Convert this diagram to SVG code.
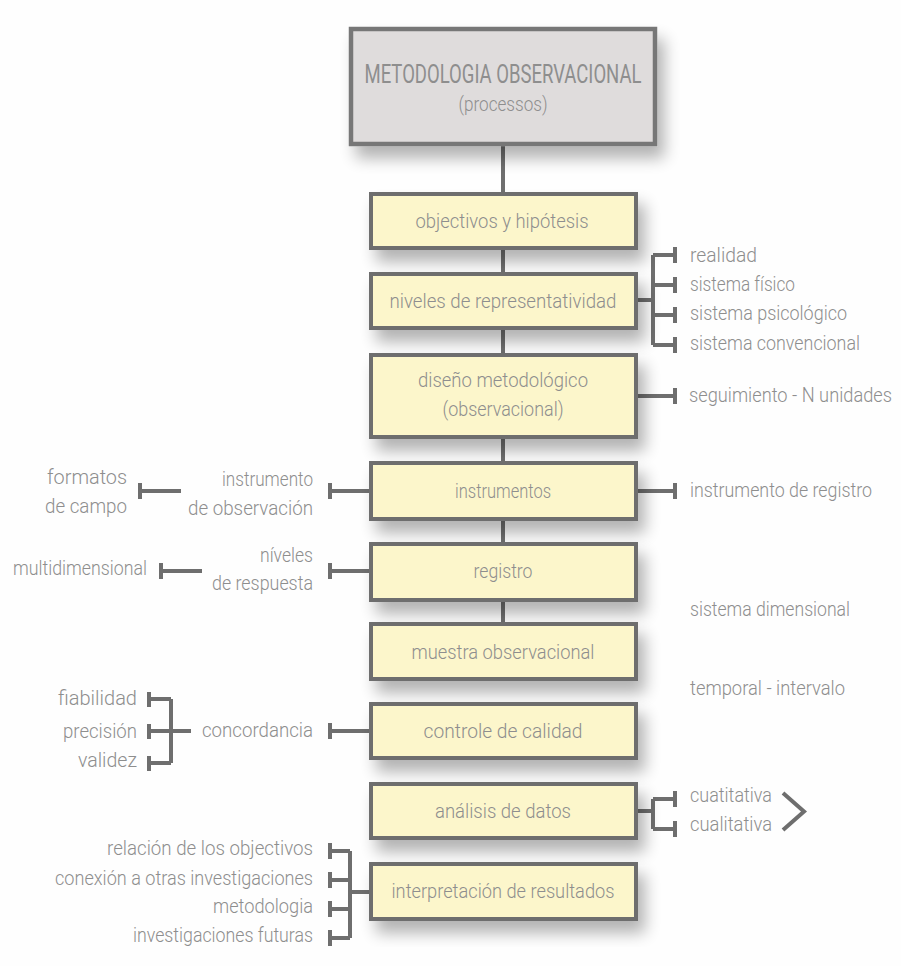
<svg xmlns="http://www.w3.org/2000/svg" width="901" height="966" viewBox="0 0 901 966">
  <defs>
    <filter id="shadow" x="-20%" y="-30%" width="150%" height="180%">
      <feGaussianBlur in="SourceAlpha" stdDeviation="8"/>
      <feOffset dx="7" dy="12" result="blur"/>
      <feComponentTransfer><feFuncA type="linear" slope="0.3"/></feComponentTransfer>
      <feMerge><feMergeNode/><feMergeNode in="SourceGraphic"/></feMerge>
    </filter>
  </defs>
  <style>
    .box { fill: #fcf6cb; stroke: #6e6e6e; stroke-width: 4; }
    .head { fill: #dfdcdc; stroke: #777777; stroke-width: 4.5; }
    .ln { stroke: #6e6e6e; stroke-width: 4; fill: none; }
    .tk { fill: #6e6e6e; }
    text { font-family: Roboto, "Liberation Sans", sans-serif; font-weight: 300; fill: #8e8e8e; font-size: 20.5px; }
    .c { text-anchor: middle; }
    .r { text-anchor: end; }
    .ttl { font-size: 25px; font-weight: 400; }
  </style>
  <rect width="901" height="966" fill="#fefefe"/>

  <!-- connectors -->
  <g id="connectors">
    <!-- spine -->
    <path class="ln" d="M503 146V192M503 250V272M503 330V353M503 439V461M503 521V542M503 602V622"/>
    <!-- niveles de representatividad: four-way bracket -->
    <path class="ln" d="M638 300H653M653 255V345M653 255H675M653 285H675M653 315H675M653 345H675"/>
    <rect class="tk" x="673" y="247" width="4" height="16"/>
    <rect class="tk" x="673" y="277" width="4" height="16"/>
    <rect class="tk" x="673" y="307" width="4" height="16"/>
    <rect class="tk" x="673" y="337" width="4" height="16"/>
    <!-- diseño metodológico -->
    <path class="ln" d="M638 396H675"/>
    <rect class="tk" x="673" y="388" width="4" height="16"/>
    <!-- instrumentos -->
    <path class="ln" d="M638 491H675M330 491H369M140 491H181"/>
    <rect class="tk" x="673" y="483" width="4" height="16"/>
    <rect class="tk" x="328" y="483" width="4" height="16"/>
    <rect class="tk" x="138" y="483" width="4" height="16"/>
    <!-- registro -->
    <path class="ln" d="M330 571H369M161 571H202"/>
    <rect class="tk" x="328" y="563" width="4" height="16"/>
    <rect class="tk" x="159" y="563" width="4" height="16"/>
    <!-- controle de calidad -->
    <path class="ln" d="M330 731H369M171 731H191M171 699V763M149 699H171M149 731H171M149 763H171"/>
    <rect class="tk" x="328" y="723" width="4" height="16"/>
    <rect class="tk" x="147" y="692" width="4" height="15"/>
    <rect class="tk" x="147" y="724" width="4" height="15"/>
    <rect class="tk" x="147" y="756" width="4" height="15"/>
    <!-- análisis de datos -->
    <path class="ln" d="M638 811H653M653 799V829M653 799H675M653 829H675"/>
    <rect class="tk" x="673" y="791" width="4" height="16"/>
    <rect class="tk" x="673" y="821" width="4" height="16"/>
    <path class="ln" d="M783 793L804 811.5L783 830" stroke-width="5"/>
    <!-- interpretación de resultados -->
    <path class="ln" d="M350 892H369M350 851V938M330 851H350M330 880H350M330 909H350M330 938H350"/>
    <rect class="tk" x="328" y="843" width="4" height="16"/>
    <rect class="tk" x="328" y="872" width="4" height="16"/>
    <rect class="tk" x="328" y="901" width="4" height="16"/>
    <rect class="tk" x="328" y="930" width="4" height="16"/>
  </g>

  <!-- main process chain -->
  <g id="n-metodologia">
    <rect class="head" x="351" y="29" width="304" height="115" filter="url(#shadow)"/>
    <text class="c ttl" x="503" y="83" textLength="277" lengthAdjust="spacingAndGlyphs">METODOLOGIA OBSERVACIONAL</text>
    <text class="c" x="503" y="111" font-size="21" textLength="89" lengthAdjust="spacingAndGlyphs">(processos)</text>
  </g>
  <g id="n-objectivos">
    <rect class="box" x="371" y="194" width="265" height="54" filter="url(#shadow)"/>
    <text class="c" x="502" y="228" textLength="173" lengthAdjust="spacingAndGlyphs">objectivos y hipótesis</text>
  </g>
  <g id="n-niveles">
    <rect class="box" x="371" y="274" width="265" height="54" filter="url(#shadow)"/>
    <text class="c" x="503" y="308" textLength="227" lengthAdjust="spacingAndGlyphs">niveles de representatividad</text>
  </g>
  <g id="n-diseno">
    <rect class="box" x="371" y="355" width="265" height="82" filter="url(#shadow)"/>
    <text class="c" x="503" y="387" textLength="170" lengthAdjust="spacingAndGlyphs">diseño metodológico</text>
    <text class="c" x="503" y="416" textLength="121" lengthAdjust="spacingAndGlyphs">(observacional)</text>
  </g>
  <g id="n-instrumentos">
    <rect class="box" x="371" y="463" width="265" height="56" filter="url(#shadow)"/>
    <text class="c" x="503" y="498" textLength="96" lengthAdjust="spacingAndGlyphs">instrumentos</text>
  </g>
  <g id="n-registro">
    <rect class="box" x="371" y="544" width="265" height="56" filter="url(#shadow)"/>
    <text class="c" x="503" y="578" textLength="59" lengthAdjust="spacingAndGlyphs">registro</text>
  </g>
  <g id="n-muestra">
    <rect class="box" x="371" y="624" width="265" height="55" filter="url(#shadow)"/>
    <text class="c" x="503" y="659" textLength="183" lengthAdjust="spacingAndGlyphs">muestra observacional</text>
  </g>
  <g id="n-controle">
    <rect class="box" x="371" y="704" width="265" height="54" filter="url(#shadow)"/>
    <text class="c" x="503" y="738" textLength="159" lengthAdjust="spacingAndGlyphs">controle de calidad</text>
  </g>
  <g id="n-analisis">
    <rect class="box" x="371" y="784" width="265" height="54" filter="url(#shadow)"/>
    <text class="c" x="503" y="818" textLength="136" lengthAdjust="spacingAndGlyphs">análisis de datos</text>
  </g>
  <g id="n-interpretacion">
    <rect class="box" x="371" y="864" width="265" height="55" filter="url(#shadow)"/>
    <text class="c" x="503" y="898" textLength="223" lengthAdjust="spacingAndGlyphs">interpretación de resultados</text>
  </g>

  <!-- right-hand labels -->
  <g id="n-realidad"><text x="690" y="262" textLength="67" lengthAdjust="spacingAndGlyphs">realidad</text></g>
  <g id="n-fisico"><text x="690" y="291" textLength="105" lengthAdjust="spacingAndGlyphs">sistema físico</text></g>
  <g id="n-psicologico"><text x="690" y="320" textLength="157" lengthAdjust="spacingAndGlyphs">sistema psicológico</text></g>
  <g id="n-convencional"><text x="690" y="350" textLength="170" lengthAdjust="spacingAndGlyphs">sistema convencional</text></g>
  <g id="n-seguimiento"><text x="689" y="402" font-size="16.5" textLength="203" lengthAdjust="spacingAndGlyphs">seguimiento - N unidades</text></g>
  <g id="n-instr-registro"><text x="690" y="497" textLength="182" lengthAdjust="spacingAndGlyphs">instrumento de registro</text></g>
  <g id="n-dimensional"><text x="690" y="616" textLength="160" lengthAdjust="spacingAndGlyphs">sistema dimensional</text></g>
  <g id="n-temporal"><text x="690" y="695" textLength="155" lengthAdjust="spacingAndGlyphs">temporal - intervalo</text></g>
  <g id="n-cuatitativa"><text x="690" y="802" textLength="82" lengthAdjust="spacingAndGlyphs">cuatitativa</text></g>
  <g id="n-cualitativa"><text x="690" y="831" textLength="82" lengthAdjust="spacingAndGlyphs">cualitativa</text></g>

  <!-- left-hand labels -->
  <g id="n-instr-observacion">
    <text class="r" x="313" y="486" textLength="91" lengthAdjust="spacingAndGlyphs">instrumento</text>
    <text class="r" x="313" y="515" textLength="125" lengthAdjust="spacingAndGlyphs">de observación</text>
  </g>
  <g id="n-formatos">
    <text class="r" x="127" y="484" textLength="80" lengthAdjust="spacingAndGlyphs">formatos</text>
    <text class="r" x="127" y="513" textLength="82" lengthAdjust="spacingAndGlyphs">de campo</text>
  </g>
  <g id="n-niveles-respuesta">
    <text class="r" x="313" y="562" textLength="53" lengthAdjust="spacingAndGlyphs">níveles</text>
    <text class="r" x="313" y="590" textLength="101" lengthAdjust="spacingAndGlyphs">de respuesta</text>
  </g>
  <g id="n-multidimensional"><text class="r" x="147" y="575" textLength="134" lengthAdjust="spacingAndGlyphs">multidimensional</text></g>
  <g id="n-concordancia"><text class="r" x="313" y="737" textLength="111" lengthAdjust="spacingAndGlyphs">concordancia</text></g>
  <g id="n-fiabilidad"><text class="r" x="137" y="705" textLength="79" lengthAdjust="spacingAndGlyphs">fiabilidad</text></g>
  <g id="n-precision"><text class="r" x="137" y="738" textLength="74" lengthAdjust="spacingAndGlyphs">precisión</text></g>
  <g id="n-validez"><text class="r" x="137" y="767" textLength="59" lengthAdjust="spacingAndGlyphs">validez</text></g>
  <g id="n-relacion"><text class="r" x="313" y="855" textLength="206" lengthAdjust="spacingAndGlyphs">relación de los objectivos</text></g>
  <g id="n-conexion"><text class="r" x="313" y="885" textLength="258" lengthAdjust="spacingAndGlyphs">conexión a otras investigaciones</text></g>
  <g id="n-metodologia-lbl"><text class="r" x="313" y="913" textLength="100" lengthAdjust="spacingAndGlyphs">metodologia</text></g>
  <g id="n-futuras"><text class="r" x="313" y="942" textLength="180" lengthAdjust="spacingAndGlyphs">investigaciones futuras</text></g>
</svg>
